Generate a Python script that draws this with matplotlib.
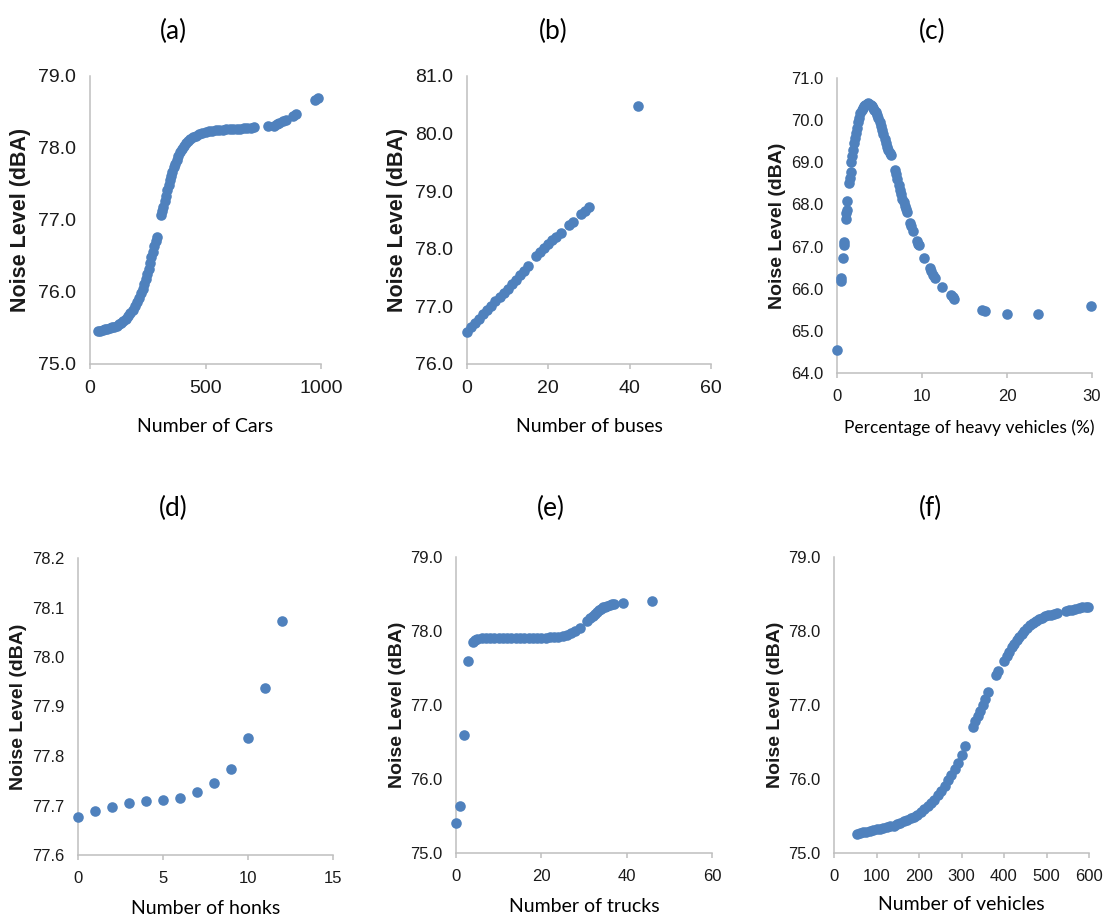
import matplotlib.pyplot as plt
from matplotlib.ticker import FormatStrFormatter

# (a) noise level vs number of cars
cars = [36, 45, 55, 65, 75, 85, 95, 105, 115, 125, 135, 145, 155, 165, 175, 185,
        195, 205, 212, 220, 228, 235, 242, 248, 254, 260, 266, 272, 278, 284, 289,
        308, 313, 318, 325, 330, 335, 340, 345, 350, 356, 362, 368, 375, 382, 390,
        398, 406, 415, 425, 435, 445, 458, 470, 485, 500, 515, 530, 545, 560, 575,
        590, 605, 620, 635, 650, 665, 680, 695, 710, 770, 795, 808, 820, 835, 848,
        880, 890, 975, 985]
cars_db = [75.46, 75.46, 75.47, 75.48, 75.49, 75.50, 75.51, 75.52, 75.53, 75.55,
           75.57, 75.60, 75.63, 75.67, 75.71, 75.75, 75.80, 75.86, 75.91, 75.98,
           76.04, 76.11, 76.18, 76.25, 76.32, 76.40, 76.48, 76.56, 76.64, 76.71,
           76.77, 77.07, 77.12, 77.18, 77.27, 77.34, 77.41, 77.48, 77.55, 77.61,
           77.67, 77.73, 77.78, 77.84, 77.89, 77.94, 77.99, 78.03, 78.07, 78.10,
           78.13, 78.15, 78.17, 78.19, 78.21, 78.22, 78.23, 78.24, 78.245, 78.25,
           78.255, 78.26, 78.26, 78.265, 78.27, 78.27, 78.275, 78.28, 78.28, 78.285,
           78.30, 78.31, 78.33, 78.35, 78.37, 78.39, 78.45, 78.47, 78.66, 78.69]

# (b) noise level vs number of buses
buses = [0, 1, 2, 3, 4, 5, 6, 7, 8, 9, 10, 11, 12, 13, 14, 15,
         17, 18, 19, 20, 21, 22, 23, 25, 26, 28, 29, 30, 42]
buses_db = [76.56, 76.64, 76.71, 76.78, 76.86, 76.94, 77.01, 77.09, 77.16, 77.24,
            77.31, 77.39, 77.46, 77.54, 77.62, 77.71, 77.88, 77.95, 78.02, 78.08,
            78.15, 78.21, 78.28, 78.41, 78.47, 78.60, 78.65, 78.72, 80.48]

# (c) noise level vs percentage of heavy vehicles
heavy_pct = [0, 0.47, 0.52, 0.67, 0.78, 0.82, 1.06, 1.10, 1.14, 1.18, 1.45, 1.53,
             1.61, 1.70, 1.80, 1.90, 2.00, 2.10, 2.20, 2.30, 2.45, 2.60, 2.75, 2.90,
             3.05, 3.20, 3.35, 3.50, 3.65, 3.80, 3.95, 4.10, 4.25, 4.40, 4.55, 4.70,
             4.85, 5.00, 5.15, 5.30, 5.45, 5.60, 5.75, 5.90, 6.05, 6.20, 6.31, 6.82,
             6.95, 7.10, 7.25, 7.40, 7.55, 7.70, 7.85, 8.00, 8.15, 8.26, 8.60, 8.75,
             8.97, 9.36, 9.50, 9.60, 10.25, 10.93, 11.10, 11.32, 11.52, 12.40, 13.37,
             13.60, 13.80, 17.00, 17.45, 20.05, 23.65, 29.93]
heavy_db = [64.54, 66.19, 66.25, 66.72, 67.04, 67.12, 67.65, 67.80, 67.87, 68.08,
            68.50, 68.62, 68.78, 69.00, 69.15, 69.30, 69.45, 69.58, 69.70, 69.82,
            69.95, 70.06, 70.16, 70.24, 70.30, 70.34, 70.37, 70.39, 70.40, 70.39,
            70.37, 70.34, 70.30, 70.25, 70.19, 70.12, 70.04, 69.96, 69.87, 69.77,
            69.67, 69.56, 69.46, 69.36, 69.28, 69.22, 69.18, 68.82, 68.72, 68.60,
            68.47, 68.35, 68.24, 68.14, 68.05, 67.97, 67.88, 67.81, 67.57, 67.48,
            67.37, 67.14, 67.07, 67.03, 66.73, 66.48, 66.41, 66.33, 66.25, 66.05,
            65.86, 65.80, 65.76, 65.50, 65.47, 65.41, 65.41, 65.58]

# (d) noise level vs number of honks
honks = [0, 1, 2, 3, 4, 5, 6, 7, 8, 9, 10, 11, 12]
honks_db = [77.676, 77.689, 77.696, 77.705, 77.710, 77.711, 77.716, 77.727,
            77.745, 77.774, 77.837, 77.937, 78.073]

# (e) noise level vs number of trucks
trucks = [0, 0.95, 1.95, 2.9, 4.0, 4.5, 5, 6, 7, 8, 9, 10, 11, 12, 13, 14, 15, 16,
          17, 18, 19, 20, 21, 22, 23, 24, 25, 26, 27, 28, 29, 30.8, 31.5, 32, 32.5,
          33, 33.5, 34, 34.5, 35, 35.5, 36, 36.5, 37, 39.1, 45.9]
trucks_db = [75.40, 75.63, 76.60, 77.60, 77.85, 77.88, 77.89, 77.90, 77.90, 77.90,
             77.90, 77.90, 77.90, 77.90, 77.90, 77.90, 77.90, 77.90, 77.905, 77.91,
             77.91, 77.91, 77.91, 77.915, 77.92, 77.925, 77.93, 77.95, 77.97, 78.00,
             78.04, 78.13, 78.17, 78.20, 78.23, 78.26, 78.28, 78.30, 78.32, 78.33,
             78.34, 78.35, 78.36, 78.37, 78.38, 78.40]

# (f) noise level vs total number of vehicles
vehicles = [53, 60, 68, 76, 84, 92, 100, 108, 116, 124, 132, 140, 148, 156, 164,
            172, 180, 188, 196, 204, 212, 220, 228, 236, 244, 252, 260, 268, 276,
            284, 292, 300, 308, 326, 332, 338, 344, 350, 356, 362, 380, 386, 400,
            406, 412, 418, 424, 430, 436, 442, 448, 455, 462, 469, 476, 483, 490,
            497, 504, 511, 518, 524, 545, 552, 560, 568, 576, 584, 592, 598]
vehicles_db = [75.26, 75.27, 75.28, 75.29, 75.30, 75.31, 75.32, 75.33, 75.34,
               75.35, 75.36, 75.37, 75.39, 75.41, 75.43, 75.45, 75.47, 75.49,
               75.52, 75.55, 75.59, 75.63, 75.67, 75.72, 75.78, 75.84, 75.91,
               75.98, 76.06, 76.14, 76.22, 76.33, 76.45, 76.70, 76.78, 76.85,
               76.92, 77.00, 77.08, 77.17, 77.40, 77.46, 77.60, 77.66, 77.72,
               77.78, 77.83, 77.88, 77.92, 77.96, 78.00, 78.04, 78.08, 78.11,
               78.14, 78.16, 78.18, 78.20, 78.21, 78.22, 78.23, 78.24, 78.27,
               78.28, 78.29, 78.30, 78.31, 78.32, 78.33, 78.33]

BLUE = "#4F81BD"
GREY = "#BFBFBF"
W, H = 1105, 918

TICK_FONT = "Liberation Sans"
LABEL_FONT = "Lato"

# each panel: data, axes box in pixels (x0, x1, y_top, y_bottom), axis setup
panels = [
    dict(x=cars, y=cars_db, box=(90, 321, 76, 364), xlim=(0, 1000),
         xticks=[0, 500, 1000], ylim=(75, 79), yticks=[75, 76, 77, 78, 79],
         xlabel="Number of Cars", xlab_fs=14, tag="(a)", tag_xy=(173, 31),
         tick_fs=14, ylab_fs=15.5, ylab_off=69, xlab_off=63, xlab_x=0.5),
    dict(x=buses, y=buses_db, box=(467, 711, 76, 364), xlim=(0, 60),
         xticks=[0, 20, 40, 60], ylim=(76, 81), yticks=[76, 77, 78, 79, 80, 81],
         xlabel="Number of buses", xlab_fs=14, tag="(b)", tag_xy=(553, 31),
         tick_fs=14, ylab_fs=15.5, ylab_off=70, xlab_off=63, xlab_x=0.5),
    dict(x=heavy_pct, y=heavy_db, box=(837, 1092, 78, 373), xlim=(0, 30),
         xticks=[0, 10, 20, 30], ylim=(64, 71), yticks=list(range(64, 72)),
         xlabel="Percentage of heavy vehicles (%)", xlab_fs=12.5, tag="(c)",
         tag_xy=(932, 31), tick_fs=12, ylab_fs=14, ylab_off=59, xlab_off=55,
         xlab_x=0.52),
    dict(x=honks, y=honks_db, box=(78, 333, 558, 855), xlim=(0, 15),
         xticks=[0, 5, 10, 15], ylim=(77.6, 78.2),
         yticks=[77.6, 77.7, 77.8, 77.9, 78.0, 78.1, 78.2],
         xlabel="Number of honks", xlab_fs=14, tag="(d)", tag_xy=(173, 508),
         tick_fs=12, ylab_fs=14, ylab_off=59, xlab_off=53, xlab_x=0.5),
    dict(x=trucks, y=trucks_db, box=(456, 712, 557, 853), xlim=(0, 60),
         xticks=[0, 20, 40, 60], ylim=(75, 79), yticks=[75, 76, 77, 78, 79],
         xlabel="Number of trucks", xlab_fs=14, tag="(e)", tag_xy=(551, 508),
         tick_fs=12, ylab_fs=14, ylab_off=59, xlab_off=54, xlab_x=0.5),
    dict(x=vehicles, y=vehicles_db, box=(834, 1089, 557, 853), xlim=(0, 600),
         xticks=[0, 100, 200, 300, 400, 500, 600], ylim=(75, 79),
         yticks=[75, 76, 77, 78, 79], xlabel="Number of vehicles", xlab_fs=14,
         tag="(f)", tag_xy=(931, 508), tick_fs=12, ylab_fs=14, ylab_off=59,
         xlab_off=52, xlab_x=0.5),
]

fig = plt.figure(figsize=(W / 100, H / 100), dpi=100)

for p in panels:
    x0, x1, yt, yb = p["box"]
    w_px, h_px = x1 - x0, yb - yt
    ax = fig.add_axes([x0 / W, 1 - yb / H, w_px / W, h_px / H])
    ax.scatter(p["x"], p["y"], s=58, color=BLUE, linewidths=0,
               clip_on=False, zorder=3)
    ax.set_xlim(*p["xlim"])
    ax.set_ylim(*p["ylim"])
    ax.set_xticks(p["xticks"])
    ax.set_yticks(p["yticks"])
    ax.yaxis.set_major_formatter(FormatStrFormatter("%.1f"))

    for side in ("top", "right"):
        ax.spines[side].set_visible(False)
    for side in ("left", "bottom"):
        ax.spines[side].set_color(GREY)
        ax.spines[side].set_linewidth(1.1)

    ax.tick_params(axis="x", length=3.6, width=1.1, color=GREY, pad=8,
                   labelsize=p["tick_fs"])
    ax.tick_params(axis="y", length=0, pad=10, labelsize=p["tick_fs"])
    for lab in ax.get_xticklabels() + ax.get_yticklabels():
        lab.set_fontfamily(TICK_FONT)
        lab.set_color("#1a1a1a")

    ax.set_xlabel(p["xlabel"], fontfamily=LABEL_FONT, fontsize=p["xlab_fs"])
    ax.xaxis.label.set_va("center")
    ax.xaxis.set_label_coords(p["xlab_x"], -p["xlab_off"] / h_px)

    ax.set_ylabel("Noise Level (dBA)", fontfamily=TICK_FONT,
                  fontweight="bold", fontsize=p["ylab_fs"], color="#1a1a1a")
    ax.yaxis.label.set_va("center")
    ax.yaxis.set_label_coords(-p["ylab_off"] / w_px, 0.5)

    tx, ty = p["tag_xy"]
    fig.text(tx / W, 1 - ty / H, p["tag"], fontfamily=LABEL_FONT,
             fontsize=19, ha="center", va="center")

fig.savefig("out.png", dpi=100, facecolor="white")
